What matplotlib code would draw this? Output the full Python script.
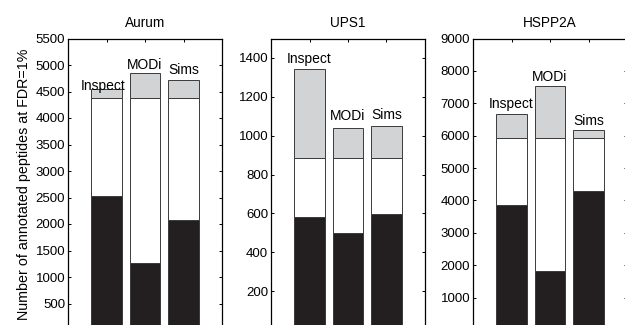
import numpy as np
import matplotlib
matplotlib.use('Agg')
import matplotlib.pyplot as plt

# Peptide identifications at FDR=1% per tool
TOOLS = ['Inspect', 'MODi', 'Sims']
DATASETS = ['Aurum', 'UPS1', 'HSPP2A']

# cumulative levels of each stacked bar (bottom black part, white part, grey part)
aurum_black = [2520, 1260, 2070]
aurum_white = [4385, 4385, 4385]
aurum_total = [4550, 4850, 4710]

ups1_black = [580, 500, 597]
ups1_white = [887, 887, 887]
ups1_total = [1342, 1042, 1048]

hspp2a_black = [3850, 1820, 4300]
hspp2a_white = [5940, 5940, 5940]
hspp2a_total = [6655, 7545, 6170]

YMAX = [5500, 1500, 9000]
YSTEP = [500, 200, 1000]

BLACK = '#231f20'
GREY = '#d1d3d4'
EDGE = '#3a3a3a'

plt.rcParams['font.family'] = ['Liberation Sans', 'DejaVu Sans']

fig = plt.figure(figsize=(6.25, 3.25), dpi=100)
W, H = 625, 325
lefts = [68, 271, 473]
ax_w = 154
top_px, bottom_px = 38.5, 330

panels = [
    (aurum_black, aurum_white, aurum_total),
    (ups1_black, ups1_white, ups1_total),
    (hspp2a_black, hspp2a_white, hspp2a_total),
]
# label offsets above bar top (points), Aurum labels squeezed in by hand
label_dy = [[-1.0, 2.5, 4.5], [4.5, 5.5, 5.5], [5.0, 3.0, 4.0]]
label_dx = [[-2.5, 0, 0], [0, 0, 0], [0, 0, 0]]

x = np.arange(1, len(TOOLS) + 1)
for i, (black, white, total) in enumerate(panels):
    ax = fig.add_axes([lefts[i] / W, (H - bottom_px) / H,
                       ax_w / W, (bottom_px - top_px) / H])
    black = np.array(black)
    white = np.array(white)
    total = np.array(total)
    ax.bar(x, black, 0.8, color=BLACK, edgecolor=EDGE, linewidth=0.7)
    ax.bar(x, white - black, 0.8, bottom=black, color='white',
           edgecolor=EDGE, linewidth=0.7)
    ax.bar(x, total - white, 0.8, bottom=white, color=GREY,
           edgecolor=EDGE, linewidth=0.7)

    for j, name in enumerate(TOOLS):
        ax.annotate(name, xy=(x[j], total[j]),
                    xytext=(label_dx[i][j], label_dy[i][j]),
                    textcoords='offset points', ha='center', va='baseline',
                    fontsize=10)

    ax.set_xlim(0, 4)
    ax.set_ylim(0, YMAX[i])
    ax.set_xticks(x)
    ax.set_xticklabels([])
    ax.set_yticks(np.arange(YSTEP[i], YMAX[i] + 1, YSTEP[i]) if i != 1
                  else np.arange(200, 1401, 200))
    ax.tick_params(direction='in', length=2.5, width=0.7, top=True,
                   right=True, labelsize=9.5, pad=2)
    for sp in ax.spines.values():
        sp.set_linewidth(0.9)
    ax.set_title(DATASETS[i], fontsize=9.8, pad=8)
    if i == 0:
        ax.set_ylabel('Number of annotated peptides at FDR=1%', fontsize=10.3,
                      labelpad=3)

fig.savefig('out.png', dpi=100)
